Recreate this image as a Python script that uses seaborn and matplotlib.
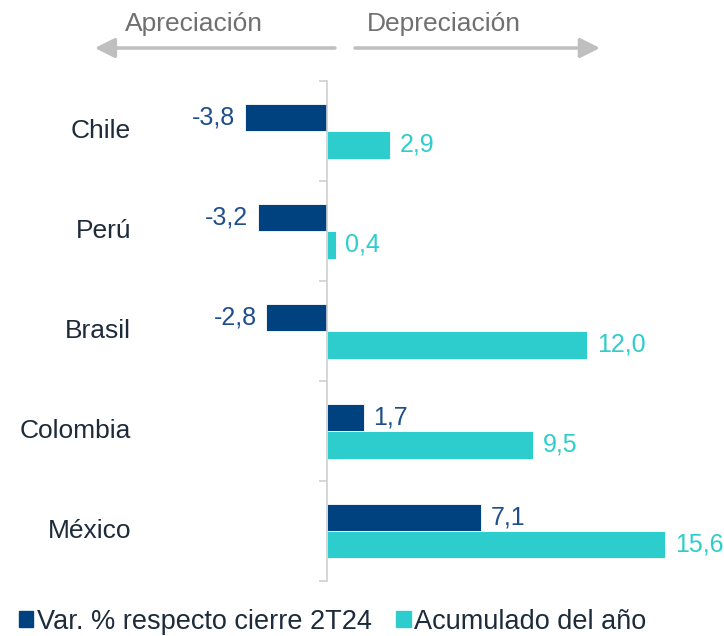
import matplotlib
matplotlib.use("Agg")
import matplotlib.pyplot as plt
import pandas as pd
import seaborn as sns
from matplotlib.patches import Patch
from matplotlib.transforms import blended_transform_factory

# data
paises = ["Chile", "Perú", "Brasil", "Colombia", "México"]
var_2t24 = [-3.8, -3.2, -2.8, 1.7, 7.1]
acum_anio = [2.9, 0.4, 12.0, 9.5, 15.6]
series = ["Var. % respecto cierre 2T24", "Acumulado del año"]

navy = "#00427f"
turq = "#2ecdcd"
gris = "#bfbfbf"

df = pd.DataFrame({
    "pais": paises * 2,
    "valor": var_2t24 + acum_anio,
    "serie": [series[0]] * len(paises) + [series[1]] * len(paises),
})

sns.set_style("white")
plt.rcParams["font.family"] = ["Liberation Sans", "DejaVu Sans"]

fig = plt.figure(figsize=(7.24, 6.36), dpi=100)
ax = fig.add_axes([0.1934, 0.0865, 0.7735, 0.786])

sns.barplot(data=df, x="valor", y="pais", hue="serie", orient="h",
            palette=[navy, turq], saturation=1, width=0.55, ax=ax,
            legend=False, edgecolor="white", linewidth=0.6)

ax.set_xlim(-8.63, 17.21)
ax.set_ylim(4.5, -0.5)
ax.set_xlabel("")
ax.set_ylabel("")
ax.set_xticks([])

# axis line at zero with small ticks between categories
for s in ["top", "right", "bottom"]:
    ax.spines[s].set_visible(False)
ax.spines["left"].set_position(("data", 0))
ax.spines["left"].set_color("#d0d0d0")
ax.spines["left"].set_linewidth(1.2)
ax.set_yticks([i - 0.5 for i in range(len(paises) + 1)])
ax.set_yticklabels([])
ax.tick_params(axis="y", left=True, length=6, color="#d0d0d0", width=1.2,
               direction="out")

trans = blended_transform_factory(ax.transAxes, ax.transData)
for i, p in enumerate(paises):
    ax.text(-0.016, i, p, transform=trans, ha="right", va="center",
            fontsize=19, color="#1d2b3a")

fmt = lambda v: f"{v:.1f}".replace(".", ",")
for cont, vals, col in zip(ax.containers, [var_2t24, acum_anio], ["#1f4e8c", turq]):
    ax.bar_label(cont, labels=[fmt(v) for v in vals], padding=7,
                 fontsize=18, color=col)

# arrows at the top
arrow_kw = dict(arrowstyle="-|>,head_length=0.6,head_width=0.3",
                color=gris, lw=2.5, mutation_scale=20, shrinkA=0, shrinkB=0)
fig.add_artist(plt.Annotation("", xy=(0.131, 0.9245), xytext=(0.4627, 0.9245),
                              xycoords="figure fraction", arrowprops=arrow_kw))
fig.add_artist(plt.Annotation("", xy=(0.8287, 0.9245), xytext=(0.4903, 0.9245),
                              xycoords="figure fraction", arrowprops=arrow_kw))
fig.text(0.2673, 0.963, "Apreciación", ha="center", va="center",
         fontsize=19, color="#707070")
fig.text(0.6133, 0.963, "Depreciación", ha="center", va="center",
         fontsize=19, color="#707070")

handles = [Patch(color=navy), Patch(color=turq)]
fig.legend(handles, series, loc="lower left", bbox_to_anchor=(-0.008, -0.036),
           ncol=2, frameon=False, fontsize=19.5, handlelength=0.55,
           handleheight=0.55, handletextpad=0.12, columnspacing=0.9,
           labelcolor="#1d2b3a")

fig.savefig("out.png", dpi=100)
